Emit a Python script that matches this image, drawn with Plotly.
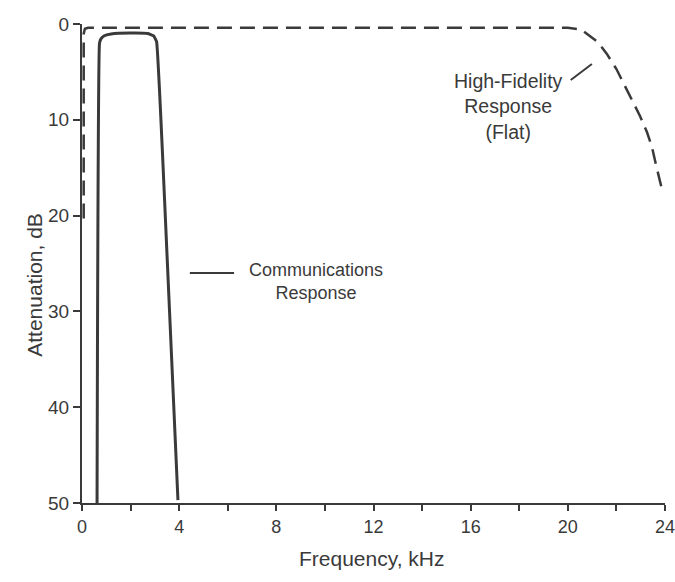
import plotly.graph_objects as go

# Communications response (solid)
comm_freq = [0.62, 0.72, 0.78, 0.90, 1.20, 1.98, 2.70, 2.95, 3.07, 3.40, 3.95]
comm_att = [50.0, 2.0, 1.55, 1.25, 1.05, 0.95, 1.0, 1.25, 1.85, 18.4, 49.7]

# High-fidelity response (dashed)
hifi_freq = [0.07, 0.07, 0.12, 0.25, 20.0, 20.56, 21.24, 21.6, 22.0, 22.35, 22.68, 22.97, 23.26, 23.46, 23.62, 23.85]
hifi_att = [20.3, 1.0, 0.5, 0.4, 0.4, 0.6, 1.9, 3.1, 4.7, 6.5, 8.2, 9.6, 11.3, 12.8, 14.6, 17.0]

x_ticks = [0, 4, 8, 12, 16, 20, 24]
y_ticks = [0, 10, 20, 30, 40, 50]

ink = "#3a3a3a"
font_family = "Liberation Sans, Arial, sans-serif"

fig = go.Figure()
fig.add_trace(go.Scatter(x=hifi_freq, y=hifi_att, mode="lines",
                         line=dict(color=ink, width=2.5, dash="15px,8px"),
                         showlegend=False, hoverinfo="skip", cliponaxis=False))
fig.add_trace(go.Scatter(x=comm_freq, y=comm_att, mode="lines",
                         line=dict(color=ink, width=3, shape="spline", smoothing=0.3),
                         showlegend=False, hoverinfo="skip", cliponaxis=False))

# pointer lines
fig.add_shape(type="line", x0=20.12, y0=5.85, x1=20.99, y1=4.18,
              line=dict(color=ink, width=2))
fig.add_shape(type="line", x0=4.44, y0=26.0, x1=6.26, y1=26.0,
              line=dict(color=ink, width=2))

fig.add_annotation(x=17.57, y=8.56, text="High-Fidelity<br>Response<br>(Flat)",
                   showarrow=False, font=dict(size=19.5, color=ink, family=font_family),
                   align="center")
fig.add_annotation(x=9.65, y=26.9, text="Communications<br>Response",
                   showarrow=False, font=dict(size=18, color=ink, family=font_family),
                   align="center")

fig.add_annotation(xref="paper", yref="paper", x=-0.106, y=0.455,
                   text="Attenuation, dB", textangle=-90, showarrow=False,
                   font=dict(size=21, color=ink, family=font_family))
fig.add_annotation(xref="paper", yref="paper", x=0.497, y=-0.144,
                   text="Frequency, kHz", showarrow=False,
                   font=dict(size=21, color=ink, family=font_family))

fig.update_xaxes(range=[0, 24], tickvals=x_ticks, ticktext=[str(v) for v in x_ticks],
                 ticks="outside", ticklen=6, tickwidth=2, tickcolor=ink,
                 minor=dict(dtick=2, tick0=0, ticks="outside", ticklen=6, tickwidth=2, tickcolor=ink),
                 showline=True, linecolor=ink, linewidth=2, showgrid=False, zeroline=False,
                 automargin=False, ticklabeloverflow="allow",
                 tickfont=dict(size=18, color=ink, family=font_family))
fig.update_yaxes(range=[50, 0], tickvals=y_ticks, ticktext=[str(v) for v in y_ticks],
                 ticks="outside", ticklen=7, tickwidth=2, tickcolor=ink,
                 showline=True, linecolor=ink, linewidth=2, showgrid=False, zeroline=False,
                 automargin=False, ticklabeloverflow="allow",
                 tickfont=dict(size=19, color=ink, family=font_family))

fig.update_layout(width=675, height=582, plot_bgcolor="white", paper_bgcolor="white",
                  margin=dict(l=82, r=10, t=24, b=79, autoexpand=False), showlegend=False)

fig.write_html("out.html", config={"displayModeBar": False},
               post_script="document.body.style.margin='0';document.body.style.overflow='hidden';")
